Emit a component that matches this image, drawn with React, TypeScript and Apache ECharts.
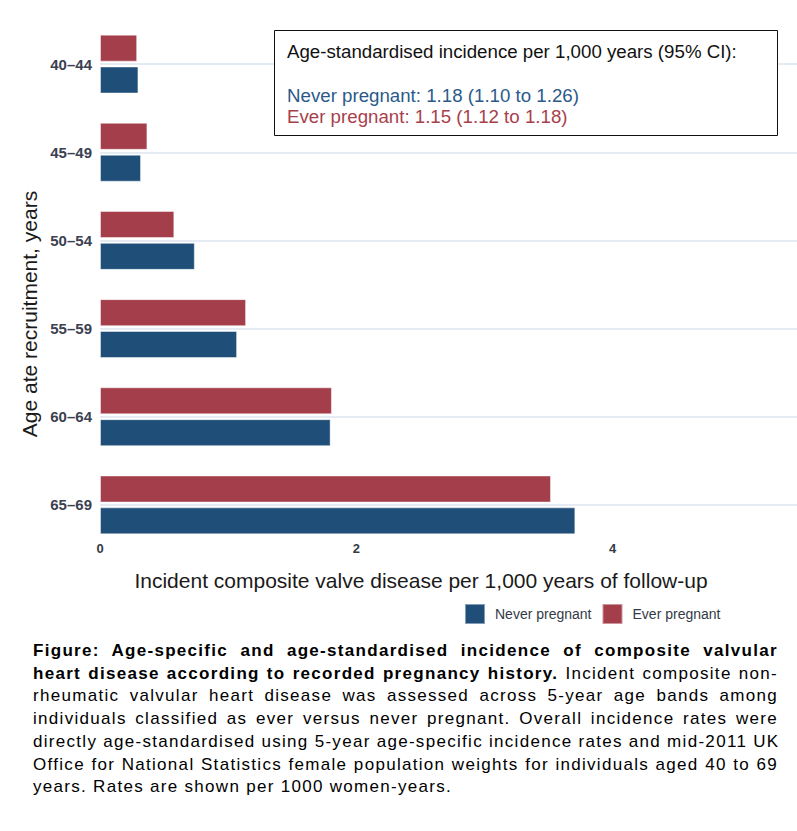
import React, { useEffect, useRef } from 'react';
import * as echarts from 'echarts';

const ageBands = ['40–44', '45–49', '50–54', '55–59', '60–64', '65–69'];
const neverPregnant = [0.3, 0.32, 0.74, 1.07, 1.8, 3.71];
const everPregnant = [0.29, 0.37, 0.58, 1.14, 1.81, 3.52];
const xTicks = [0, 2, 4];

const BLUE = '#1f4e79';
const RED = '#a33e4a';
const FONT = '"Liberation Sans", Arial, Helvetica, sans-serif';

const captionLines = [
  ['Figure: Age-specific and age-standardised incidence of composite valvular', ''],
  ['heart disease according to recorded pregnancy history.', ' Incident composite non-'],
  ['', 'rheumatic valvular heart disease was assessed across 5-year age bands among'],
  ['', 'individuals classified as ever versus never pregnant. Overall incidence rates were'],
  ['', 'directly age-standardised using 5-year age-specific incidence rates and mid-2011 UK'],
  ['', 'Office for National Statistics female population weights for individuals aged 40 to 69'],
  ['', 'years. Rates are shown per 1000 women-years.'],
];

const Chart: React.FC = () => {
  const chartRef = useRef<HTMLDivElement>(null);

  useEffect(() => {
    const chart = echarts.init(chartRef.current!, undefined, { renderer: 'svg' });

    const option = {
      animation: false,
      textStyle: { fontFamily: FONT },
      grid: { left: 100, right: 0, top: 20, height: 529 },
      legend: {
        data: ['Never pregnant', 'Ever pregnant'],
        left: 464,
        top: 603,
        padding: 0,
        itemWidth: 20,
        itemHeight: 20,
        itemGap: 10,
        icon: 'rect',
        selectedMode: false,
        textStyle: { fontSize: 14, color: '#333a45', padding: [0, 0, 0, 5] },
      },
      xAxis: {
        type: 'value',
        min: 0,
        max: 5.44,
        interval: 2,
        axisLine: { show: false },
        axisTick: { show: false },
        splitLine: { show: false },
        axisLabel: {
          margin: -7,
          fontSize: 13,
          fontWeight: 'bold',
          color: '#333a45',
          showMaxLabel: false,
          formatter: (v: number) => (xTicks.includes(v) ? String(v) : ''),
        },
      },
      yAxis: {
        type: 'category',
        data: ageBands,
        inverse: true,
        axisLine: { show: false },
        axisTick: { show: false },
        splitLine: { show: false },
        axisLabel: { margin: 8, fontSize: 15, fontWeight: 'bold', color: '#3b4150' },
      },
      graphic: [
        {
          type: 'text',
          x: 29,
          y: 314,
          rotation: Math.PI / 2,
          style: {
            text: 'Age ate recruitment, years',
            fontSize: 21,
            fontFamily: FONT,
            fill: '#1a1a1a',
            align: 'center',
            verticalAlign: 'middle',
          },
        },
        {
          type: 'text',
          x: 421,
          y: 580,
          style: {
            text: 'Incident composite valve disease per 1,000 years of follow-up',
            fontSize: 21,
            fontFamily: FONT,
            fill: '#1a1a1a',
            align: 'center',
            verticalAlign: 'middle',
          },
        },
        {
          type: 'rect',
          shape: { x: 274.5, y: 30.5, width: 503, height: 105 },
          style: { fill: '#fff', stroke: '#111', lineWidth: 1 },
          z: 100,
        },
        {
          type: 'text',
          x: 287,
          y: 51,
          z: 101,
          style: {
            text: 'Age-standardised incidence per 1,000 years (95% CI):',
            fontSize: 18.7,
            fontFamily: FONT,
            fill: '#111',
            verticalAlign: 'middle',
          },
        },
        {
          type: 'text',
          x: 287,
          y: 95,
          z: 101,
          style: {
            text: 'Never pregnant: 1.18 (1.10 to 1.26)',
            fontSize: 18.7,
            fontFamily: FONT,
            fill: '#2b5a8a',
            verticalAlign: 'middle',
          },
        },
        {
          type: 'text',
          x: 287,
          y: 116,
          z: 101,
          style: {
            text: 'Ever pregnant: 1.15 (1.12 to 1.18)',
            fontSize: 18.7,
            fontFamily: FONT,
            fill: '#a8404c',
            verticalAlign: 'middle',
          },
        },
      ],
      series: [
        {
          name: 'Ever pregnant',
          type: 'bar',
          data: everPregnant,
          barWidth: 27,
          barGap: '18%',
          z: 3,
          itemStyle: { color: RED, borderColor: 'rgba(255,255,255,0.45)', borderWidth: 1 },
          emphasis: { disabled: true },
        },
        {
          name: 'Never pregnant',
          type: 'bar',
          data: neverPregnant,
          barWidth: 27,
          barGap: '18%',
          z: 3,
          itemStyle: { color: BLUE, borderColor: 'rgba(255,255,255,0.45)', borderWidth: 1 },
          emphasis: { disabled: true },
        },
        {
          // carries the horizontal gridlines at each band's centre
          name: 'grid',
          type: 'line',
          data: [],
          z: 1,
          markLine: {
            silent: true,
            symbol: 'none',
            z: 1,
            label: { show: false },
            lineStyle: { color: '#dde4ee', width: 1.5, type: 'solid' },
            data: ageBands.map((c) => ({ yAxis: c })),
          },
        },
      ],
    };

    chart.setOption(option);

    return () => {
      chart.dispose();
    };
  }, []);

  return <div ref={chartRef} style={{ width: 797, height: 640 }} />;
};

const App: React.FC = () => {
  return (
    <div style={{ position: 'absolute', left: 0, top: 0, width: 797, background: '#fff' }}>
      <Chart />
      <div
        style={{
          marginLeft: 33,
          width: 745,
          fontFamily: FONT,
          fontSize: 17,
          lineHeight: '22.7px',
          color: '#000',
          letterSpacing: '1.3px',
        }}
      >
        {captionLines.map(([bold, normal], i) => (
          <div
            key={i}
            style={{
              textAlign: 'justify',
              textAlignLast: i === captionLines.length - 1 ? 'left' : 'justify',
              whiteSpace: 'nowrap',
            }}
          >
            {bold && <b>{bold}</b>}
            {normal}
          </div>
        ))}
      </div>
    </div>
  );
};

export default App;
